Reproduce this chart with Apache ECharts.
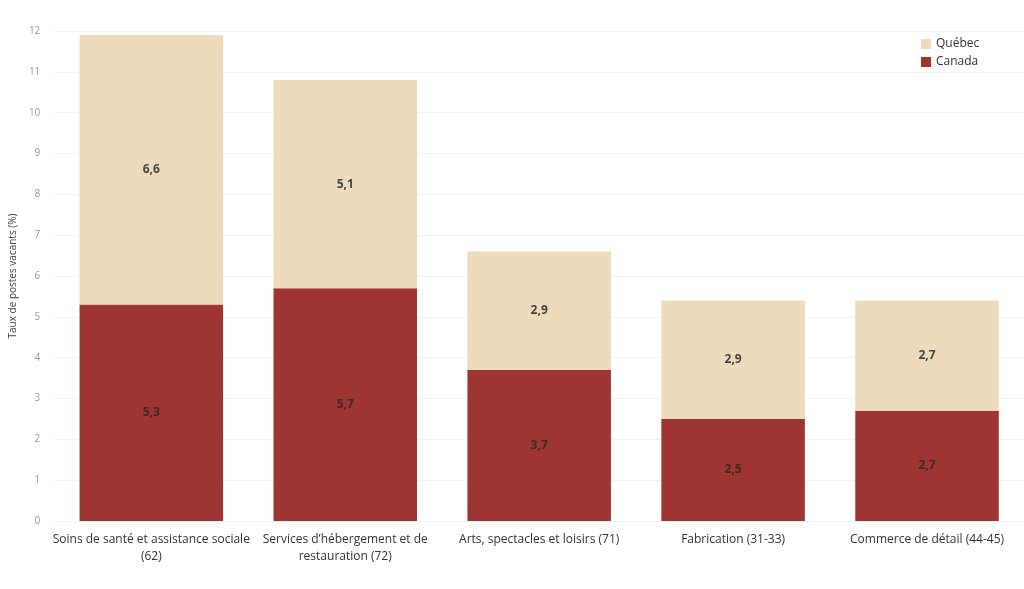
<!DOCTYPE html>
<html><head><meta charset="utf-8">
<script src="https://cdn.jsdelivr.net/npm/echarts@6/dist/echarts.min.js"></script>
<style>html,body{margin:0;padding:0;background:#fff}#c{width:1024px;height:589px}</style>
</head><body><div id="c"></div>
<script>
const categories = ["Soins de santé et assistance sociale\n(62)", "Services d’hébergement et de\nrestauration (72)", "Arts, spectacles et loisirs (71)", "Fabrication (31-33)", "Commerce de détail (44-45)"];
const canada = [5.3, 5.7, 3.7, 2.5, 2.7];
const quebec = [6.6, 5.1, 2.9, 2.9, 2.7];
const yTicks = [0,1,2,3,4,5,6,7,8,9,10,11,12];

const chart = echarts.init(document.getElementById('c'));
const fmt = p => String(p.value).replace('.', ',');
chart.setOption({
  animation: false,
  textStyle: {fontFamily: 'Open Sans'},
  legend: {
    orient: 'vertical', right: 52, top: 35, itemWidth: 10, itemHeight: 10, itemGap: 6,
    icon: 'rect', textStyle: {fontSize: 12, color: '#333'},
    data: ['Québec', 'Canada'], left: 916, top: 33
  },
  grid: {left: 53, right: 0, top: 31, bottom: 68},
  xAxis: {
    type: 'category', data: categories,
    axisLine: {show: false}, axisTick: {show: false},
    axisLabel: {color: '#333', fontSize: 12, lineHeight: 17, margin: 10, interval: 0}
  },
  yAxis: {
    type: 'value', min: 0, max: 12, interval: 1,
    name: 'Taux de postes vacants (%)', nameLocation: 'middle', nameGap: 27,
    nameTextStyle: {fontSize: 10, color: '#444'},
    axisLabel: {color: '#999', fontSize: 10, margin: 14},
    splitLine: {lineStyle: {color: '#f2f2f2'}}
  },
  series: [
    {name: 'Canada', type: 'bar', stack: 't', data: canada, barWidth: '74%',
     itemStyle: {color: '#9E3532'},
     label: {show: true, position: 'inside', formatter: fmt, color: '#3a2a28', fontSize: 12, fontWeight: 'bold'}},
    {name: 'Québec', type: 'bar', stack: 't', data: quebec, barWidth: '74%',
     itemStyle: {color: '#EDDBBC'},
     label: {show: true, position: 'inside', formatter: fmt, color: '#444', fontSize: 12, fontWeight: 'bold'}}
  ]
});
</script></body></html>
